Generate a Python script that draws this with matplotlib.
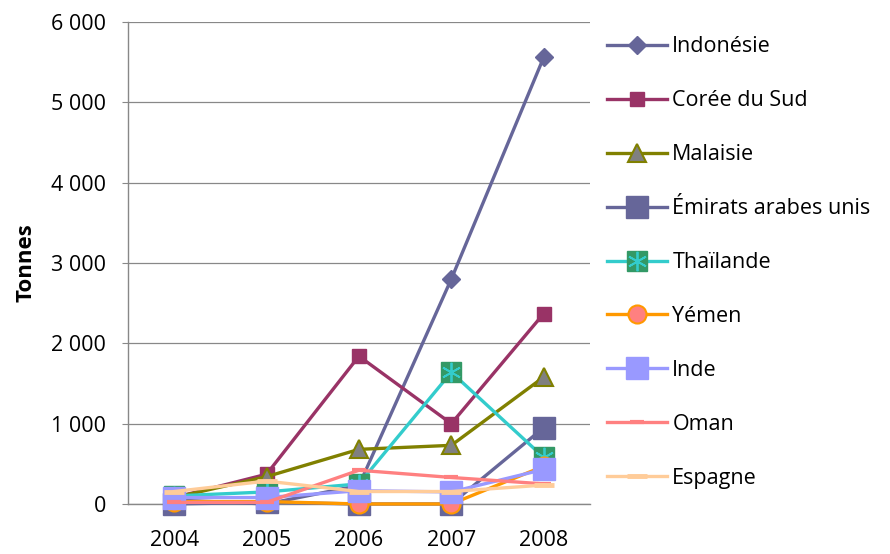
import matplotlib
matplotlib.use("Agg")
import matplotlib.pyplot as plt
from matplotlib.ticker import FuncFormatter
from matplotlib.legend_handler import HandlerTuple

plt.rcParams['font.family'] = ['Open Sans', 'DejaVu Sans']

years = ["2004", "2005", "2006", "2007", "2008"]
indonesie = [50, 0, 230, 2800, 5560]
coree = [80, 370, 1840, 1000, 2370]
malaisie = [80, 340, 680, 730, 1580]
emirats = [0, 20, 0, 0, 950]
thailande = [100, 150, 250, 1640, 580]
yemen = [30, 30, 0, 0, 470]
inde = [80, 80, 165, 150, 430]
oman = [20, 20, 420, 330, 250]
espagne = [155, 285, 155, 155, 235]

series = [
    ("Indonésie", indonesie, dict(color="#666699", marker="D", ms=9, mfc="#666699", mec="#666699")),
    ("Corée du Sud", coree, dict(color="#993366", marker="s", ms=10, mfc="#993366", mec="#993366")),
    ("Malaisie", malaisie, dict(color="#808000", marker="^", ms=13, mfc="#808080", mec="#808000", mew=1.5)),
    ("Émirats arabes unis", emirats, dict(color="#666699", marker="s", ms=16, mfc="#666699", mec="#666699")),
    ("Thaïlande", thailande, dict(color="#33CCCC", marker="s", ms=15, mfc="#339966", mec="#339966")),
    ("Yémen", yemen, dict(color="#FF9900", marker="o", ms=13, mfc="#FF8080", mec="#FF9900", mew=1.5)),
    ("Inde", inde, dict(color="#9999FF", marker="s", ms=16, mfc="#9999FF", mec="#9999FF")),
    ("Oman", oman, dict(color="#FF8080", marker="_", ms=10, mew=3, mfc="#FF8080", mec="#FF8080")),
    ("Espagne", espagne, dict(color="#FFCC99", marker="_", ms=14, mew=3.5, mfc="#FFCC99", mec="#FFCC99")),
]

fig = plt.figure(figsize=(8.9, 5.54), dpi=100)
ax = fig.add_axes([0.1438, 0.0903, 0.519, 0.870])

x = list(range(len(years)))
handles = []
for name, vals, st in series:
    ln, = ax.plot(x, vals, lw=2.4, label=name, zorder=3, clip_on=False, **st)
    if name == "Thaïlande":
        star, = ax.plot(x, vals, ls="none", marker=(6, 2, 0), ms=14, mec="#33CCCC",
                        mew=1.3, zorder=3, clip_on=False)
        handles.append((ln, star))
    else:
        handles.append(ln)

ax.set_xlim(-0.5, 4.5)
ax.set_ylim(0, 6000)
ax.set_yticks(range(0, 6001, 1000))
ax.yaxis.set_major_formatter(FuncFormatter(lambda v, p: f"{int(v):,}".replace(",", " ")))
ax.set_xticks(x)
ax.set_xticklabels(years)
ax.tick_params(axis="both", labelsize=15.5, colors="#000000")
ax.tick_params(axis="y", length=4, color="#888888", pad=12)
ax.tick_params(axis="x", length=0, pad=19)
ax.grid(axis="y", color="#888888", lw=0.9)
ax.set_axisbelow(True)
for s in ["top", "right"]:
    ax.spines[s].set_visible(False)
for s in ["left", "bottom"]:
    ax.spines[s].set_color("#888888")
    ax.spines[s].set_linewidth(1.0)
ax.set_ylabel("Tonnes", fontsize=16, fontweight="bold", labelpad=10)

fig.legend(handles, [s[0] for s in series], loc="upper left", bbox_to_anchor=(0.672, 0.95),
           frameon=False, fontsize=15.5, handlelength=2.8, labelspacing=1.53,
           handletextpad=0.25, borderaxespad=0,
           handler_map={tuple: HandlerTuple(ndivide=1)})

fig.savefig("out.png", dpi=100)
